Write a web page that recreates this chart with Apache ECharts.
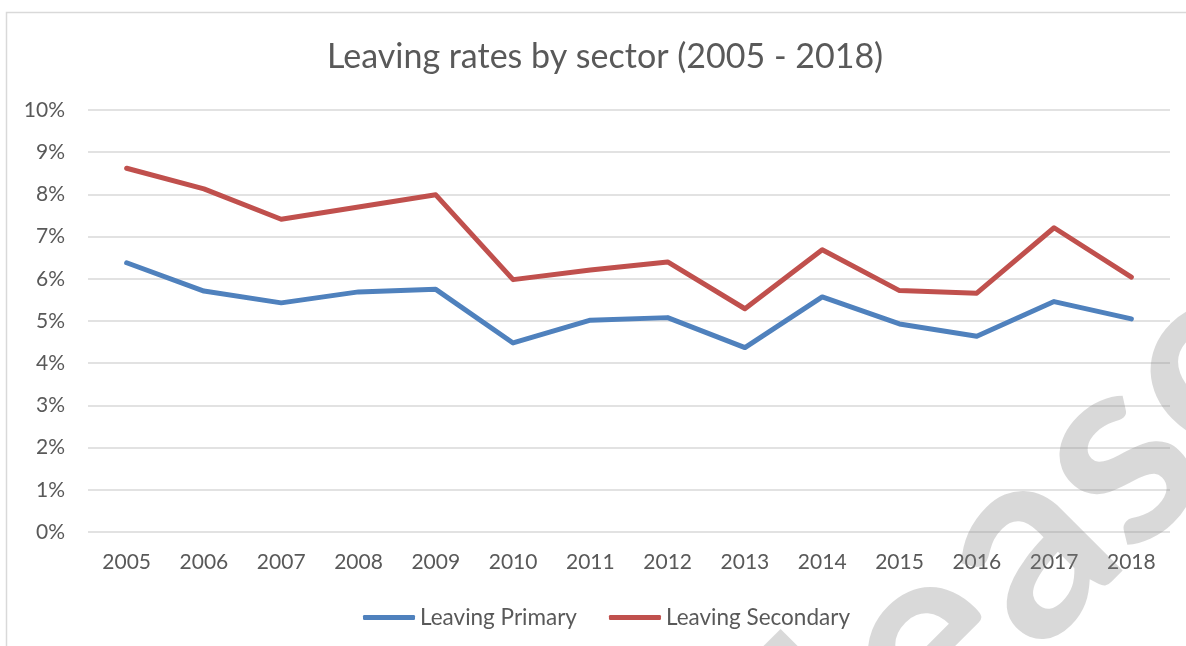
<!DOCTYPE html>
<html>
<head>
<meta charset="utf-8">
<script src="https://cdn.jsdelivr.net/npm/echarts@6/dist/echarts.min.js"></script>
<style>
html,body{margin:0;padding:0;background:#fff;}
#chart{width:1186px;height:646px;}
</style>
</head>
<body>
<div id="chart"></div>
<script>
const years = ['2005','2006','2007','2008','2009','2010','2011','2012','2013','2014','2015','2016','2017','2018'];
const leavingPrimary = [6.38, 5.71, 5.43, 5.69, 5.75, 4.48, 5.02, 5.08, 4.37, 5.57, 4.93, 4.64, 5.46, 5.05];
const leavingSecondary = [8.62, 8.13, 7.41, 7.70, 7.99, 5.98, 6.21, 6.40, 5.29, 6.69, 5.72, 5.66, 7.21, 6.04];
const yTicks = [0,1,2,3,4,5,6,7,8,9,10];

const chart = echarts.init(document.getElementById('chart'));
const font = 'Lato, "Open Sans", sans-serif';
chart.setOption({
  animation: false,
  backgroundColor: '#fff',
  title: {
    text: 'Leaving rates by sector (2005 - 2018)',
    left: 322, top: 35,
    textStyle: {color: '#595959', fontSize: 34, fontWeight: 'normal', fontFamily: font}
  },
  legend: {
    bottom: 12, left: 358,
    itemWidth: 52, itemHeight: 5, itemGap: 32,
    icon: 'roundRect',
    textStyle: {color: '#595959', fontSize: 22.5, fontFamily: font},
    data: ['Leaving Primary', 'Leaving Secondary']
  },
  grid: {left: 88, right: 16, top: 110, bottom: 114},
  xAxis: {
    type: 'category', data: years, boundaryGap: true,
    axisLine: {show: false}, axisTick: {show: false},
    axisLabel: {color: '#595959', fontSize: 21, fontFamily: font, margin: 20}
  },
  yAxis: {
    type: 'value', min: yTicks[0], max: yTicks[yTicks.length-1], interval: 1,
    axisLine: {show: false}, axisTick: {show: false},
    axisLabel: {color: '#595959', fontSize: 21, fontFamily: font, margin: 23, formatter: '{value}%'},
    splitLine: {lineStyle: {color: '#d9d9d9', width: 1.5}}
  },
  series: [
    {name: 'Leaving Primary', type: 'line', data: leavingPrimary, symbol: 'none',
     lineStyle: {color: '#4F81BD', width: 5, cap: 'round', join: 'round'}, itemStyle: {color: '#4F81BD'}},
    {name: 'Leaving Secondary', type: 'line', data: leavingSecondary, symbol: 'none',
     lineStyle: {color: '#C0504D', width: 5, cap: 'round', join: 'round'}, itemStyle: {color: '#C0504D'}}
  ],
  graphic: [
    {type: 'rect', shape: {x: 6.5, y: 12.5, width: 1400, height: 800}, silent: true,
     style: {fill: 'none', stroke: '#d9d9d9', lineWidth: 1.5}, z: -1},
    {type: 'text', x: 607, y: 963, rotation: Math.PI / 4, silent: true, z: 100,
     style: {text: 'Release', font: 'bold 270px Lato, "Open Sans", sans-serif', fill: 'rgba(128,128,128,0.3)', textVerticalAlign: 'middle', textAlign: 'left'}}
  ]
});
</script>
</body>
</html>
